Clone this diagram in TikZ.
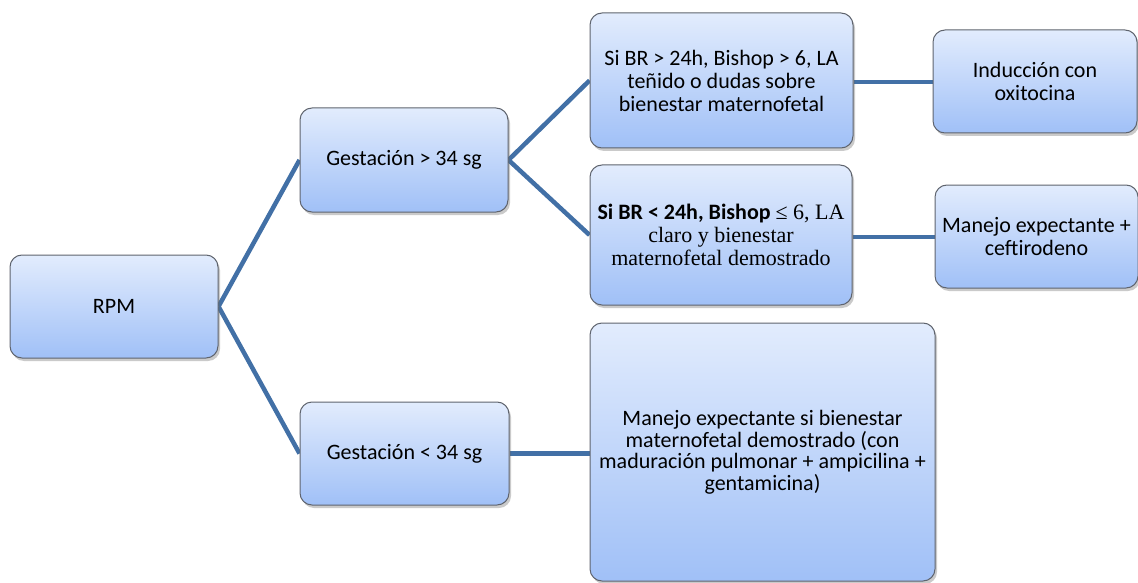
\documentclass[tikz,border=0pt]{standalone}
\usepackage{fontspec}
\setmainfont{Carlito}
\newfontfamily\serifb{Liberation Serif}
\usetikzlibrary{shadows,backgrounds}
\definecolor{boxtop}{RGB}{226,236,253}
\definecolor{boxbot}{RGB}{160,192,247}
\definecolor{boxline}{RGB}{95,100,110}
\definecolor{linkc}{RGB}{66,112,166}
\tikzset{
  box/.style={draw=boxline, line width=1pt, rounded corners=12pt,
    top color=boxtop, bottom color=boxbot, align=center,
    font=\fontsize{22}{23}\selectfont, text=black, inner sep=0pt,
    drop shadow={shadow xshift=2pt, shadow yshift=-3pt, opacity=0.35, fill=black!60}},
  link/.style={draw=linkc, line width=4.5pt},
}
\begin{document}
\begin{tikzpicture}[x=1pt,y=-1pt]
\useasboundingbox (0,0) rectangle (1138,583);
\node[box, minimum width=208pt, minimum height=103pt] (rpm) at (114,306.5) {RPM};
\node[box, minimum width=208pt, minimum height=104pt] (g1) at (404,160) {Gestación > 34 sg};
\node[box, minimum width=209pt, minimum height=103pt] (g2) at (404.5,453.5) {Gestación < 34 sg};
\node[box, minimum width=263pt, minimum height=135pt] (a1) at (721.5,80.5) {Si BR > 24h, Bishop > 6, LA\\teñido o dudas sobre\\bienestar maternofetal};
\node[box, minimum width=262pt, minimum height=140pt] (a2) at (721,235) {{\bfseries Si BR < 24h, Bishop} {\serifb ≤ 6, LA}\\{\serifb claro y bienestar}\\{\serifb maternofetal demostrado}};
\node[box, minimum width=345pt, minimum height=258pt, font=\fontsize{22}{21.5}\selectfont] (big) at (762.5,452) {Manejo expectante si bienestar\\maternofetal demostrado (con\\maduración pulmonar + ampicilina +\\gentamicina)};
\node[box, minimum width=204pt, minimum height=103pt] (r1) at (1035,81.5) {Inducción con\\oxitocina};
\node[box, minimum width=203pt, minimum height=103pt] (r2) at (1036.5,236.5) {Manejo expectante +\\ceftirodeno};
\begin{scope}[on background layer]
\draw[link] (rpm.east) -- (g1.west);
\draw[link] (rpm.east) -- (g2.west);
\draw[link] (g1.east) -- (a1.west);
\draw[link] (g1.east) -- (a2.west);
\draw[link] (g2.east) -- (g2.east -| big.west);
\draw[link] ([yshift=-1.5pt]a1.east) -- ([yshift=-1.5pt]a1.east -| r1.west);
\draw[link] ([yshift=-2pt]a2.east) -- ([yshift=-2pt]a2.east -| r2.west);
\end{scope}
\end{tikzpicture}
\end{document}
